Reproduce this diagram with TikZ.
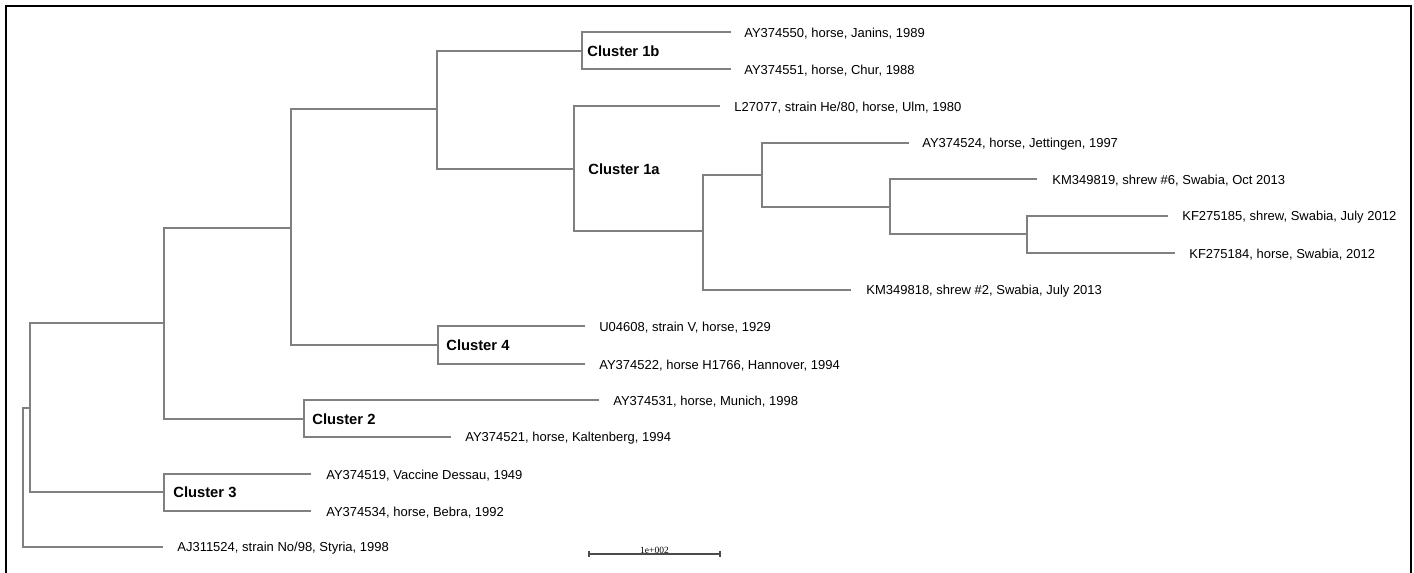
\documentclass[tikz,border=0pt]{standalone}
\usepackage{fontspec}
\setmainfont{Liberation Sans}
\newfontfamily\barfont{Liberation Serif}
\usetikzlibrary{positioning,calc}

\begin{document}
\begin{tikzpicture}[
  x=0.02cm, y=-0.02cm,
  branch/.style={draw=black!50, line width=0.8pt},
  leaf/.style={inner sep=0pt, yshift=-0.025cm, font=\fontsize{7.4}{9}\selectfont},
  clade/.style={inner sep=0pt, font=\fontsize{8.4}{10}\selectfont\bfseries},
  scalebar/.style={draw=black!70, line width=0.6pt},
]
\useasboundingbox (0,0) rectangle (1414,573);

% === Frame ===
\draw[line width=1.2pt] (6,573) -- (6,6) -- (1411,6) -- (1411,573);

% === Branch points ===
\coordinate (root) at (23, 478);
\coordinate (nA) at (30, 408);
\coordinate (nB) at (164, 323);
\coordinate (n3) at (164, 492);
\coordinate (nC) at (291, 228);
\coordinate (n2) at (304, 419);
\coordinate (nD) at (437, 109);
\coordinate (n4) at (438, 345);
\coordinate (n1b) at (582, 51);
\coordinate (n1a) at (574, 169);
\coordinate (nE) at (703, 231);
\coordinate (nF) at (762, 175);
\coordinate (nG) at (890, 207);
\coordinate (nH) at (1027, 234);

% === Leaf ends ===
\coordinate (l1) at (731, 32);
\coordinate (l2) at (731, 69);
\coordinate (l3) at (720, 106);
\coordinate (l4) at (909, 143);
\coordinate (l5) at (1037, 179);
\coordinate (l6) at (1168, 216);
\coordinate (l7) at (1175, 253);
\coordinate (l8) at (851, 290);
\coordinate (l9) at (585, 326);
\coordinate (l10) at (585, 364);
\coordinate (l11) at (599, 400);
\coordinate (l12) at (451, 437);
\coordinate (l13) at (311, 474);
\coordinate (l14) at (311, 511);
\coordinate (l15) at (163, 547);

% === Branches ===
\draw[branch] (root) |- (nA);
\draw[branch] (root) |- (l15);
\draw[branch] (nA) |- (nB);
\draw[branch] (nA) |- (n3);
\draw[branch] (n3) |- (l13);
\draw[branch] (n3) |- (l14);
\draw[branch] (nB) |- (nC);
\draw[branch] (nB) |- (n2);
\draw[branch] (n2) |- (l11);
\draw[branch] (n2) |- (l12);
\draw[branch] (nC) |- (nD);
\draw[branch] (nC) |- (n4);
\draw[branch] (n4) |- (l9);
\draw[branch] (n4) |- (l10);
\draw[branch] (nD) |- (n1b);
\draw[branch] (nD) |- (n1a);
\draw[branch] (n1b) |- (l1);
\draw[branch] (n1b) |- (l2);
\draw[branch] (n1a) |- (l3);
\draw[branch] (n1a) |- (nE);
\draw[branch] (nE) |- (nF);
\draw[branch] (nE) |- (l8);
\draw[branch] (nF) |- (l4);
\draw[branch] (nF) |- (nG);
\draw[branch] (nG) |- (l5);
\draw[branch] (nG) |- (nH);
\draw[branch] (nH) |- (l6);
\draw[branch] (nH) |- (l7);

% === Leaf labels ===
\node[leaf, right=0.26cm of l1] (t1) {AY374550, horse, Janins, 1989};
\node[leaf, right=0.26cm of l2] (t2) {AY374551, horse, Chur, 1988};
\node[leaf, right=0.28cm of l3] (t3) {L27077, strain He/80, horse, Ulm, 1980};
\node[leaf, right=0.26cm of l4] (t4) {AY374524, horse, Jettingen, 1997};
\node[leaf, right=0.3cm of l5] (t5) {KM349819, shrew \#6, Swabia, Oct 2013};
\node[leaf, right=0.28cm of l6] (t6) {KF275185, shrew, Swabia, July 2012};
\node[leaf, right=0.28cm of l7] (t7) {KF275184, horse, Swabia, 2012};
\node[leaf, right=0.3cm of l8] (t8) {KM349818, shrew \#2, Swabia, July 2013};
\node[leaf, right=0.28cm of l9] (t9) {U04608, strain V, horse, 1929};
\node[leaf, right=0.28cm of l10] (t10) {AY374522, horse H1766, Hannover, 1994};
\node[leaf, right=0.28cm of l11] (t11) {AY374531, horse, Munich, 1998};
\node[leaf, right=0.28cm of l12] (t12) {AY374521, horse, Kaltenberg, 1994};
\node[leaf, right=0.3cm of l13] (t13) {AY374519, Vaccine Dessau, 1949};
\node[leaf, right=0.3cm of l14] (t14) {AY374534, horse, Bebra, 1992};
\node[leaf, right=0.28cm of l15] (t15) {AJ311524, strain No/98, Styria, 1998};

% === Clusters ===
\node[clade, right=0.1cm of n1b] (c1b) {Cluster 1b};
\node[clade, right=0.28cm of n1a] (c1a) {Cluster 1a};
\node[clade, right=0.16cm of n4] (c4) {Cluster 4};
\node[clade, right=0.16cm of n2] (c2) {Cluster 2};
\node[clade, right=0.18cm of n3] (c3) {Cluster 3};

% === Scale ===
\coordinate (sbL) at (589, 554);
\coordinate (sbR) at (720, 554);
\draw[scalebar] (sbL) -- (sbR);
\draw[scalebar] ([yshift=0.06cm]sbL) -- ([yshift=-0.06cm]sbL);
\draw[scalebar] ([yshift=0.06cm]sbR) -- ([yshift=-0.06cm]sbR);
\node[inner sep=0.3pt, anchor=south, font=\barfont\fontsize{5.4}{6}\selectfont] (sblab) at ($(sbL)!0.5!(sbR)$) {1e+002};

\end{tikzpicture}
\end{document}
